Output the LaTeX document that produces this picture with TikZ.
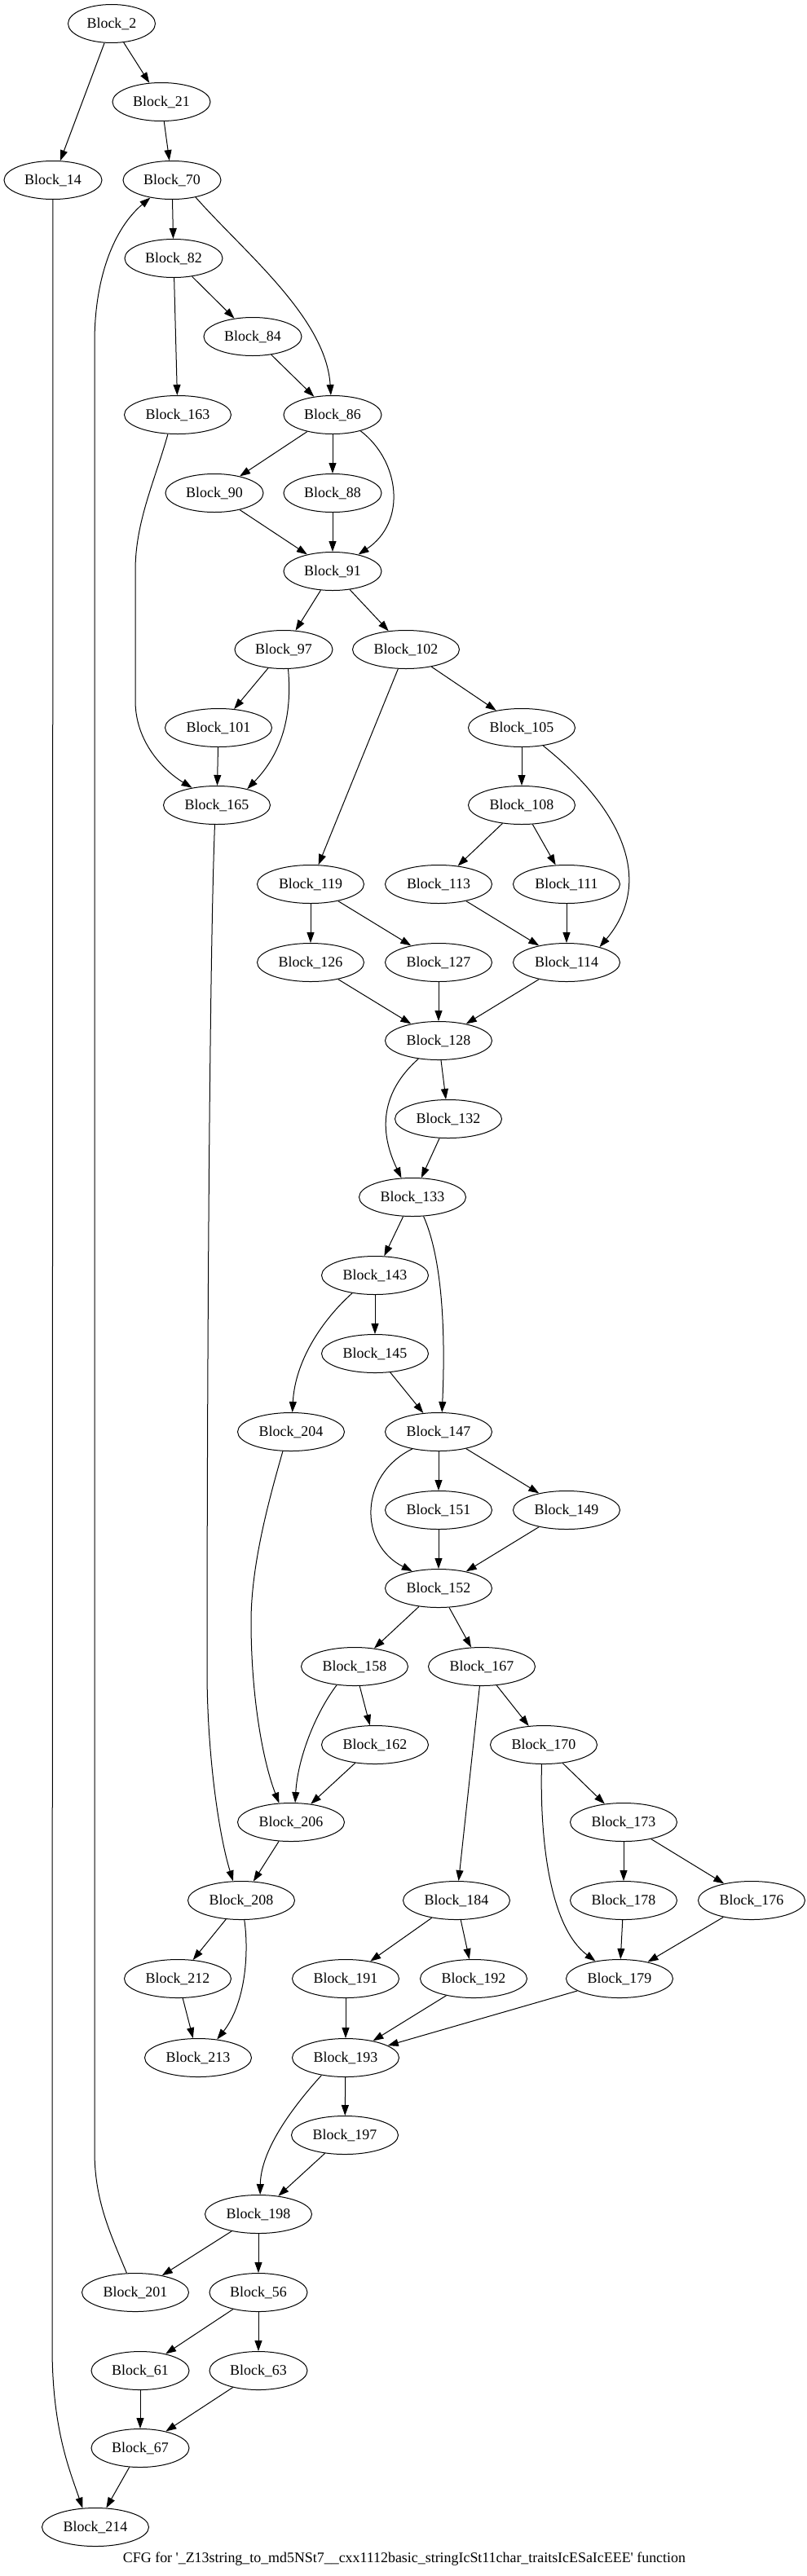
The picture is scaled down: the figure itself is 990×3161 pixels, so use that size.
\documentclass[tikz,border=0pt]{standalone}
\usepackage{fontspec}
\setmainfont{Liberation Serif}
\usetikzlibrary{shapes.geometric,arrows.meta}
\begin{document}
\begin{tikzpicture}[x=1pt,y=-1pt,
  blk/.style={draw,ellipse,line width=1pt,inner sep=0pt,minimum height=47pt,font=\fontsize{17.9}{20}\selectfont},
  bA/.style={blk,minimum width=107pt},
  bB/.style={blk,minimum width=120pt},
  bC/.style={blk,minimum width=131pt},
  ar/.style={line width=1pt,-{Triangle[length=13pt,width=9pt]}},
  ln/.style={line width=1pt}
]
\useasboundingbox[fill=white] (0,0) rectangle (990,3161);
% nodes
\node[bA] (n2) at (137,29) {Block\_2};
\node[bB] (n21) at (198,125) {Block\_21};
\node[bB] (n14) at (65,221) {Block\_14};
\node[bB] (n70) at (211,221) {Block\_70};
\node[bB] (n82) at (213,317) {Block\_82};
\node[bB] (n84) at (310,413) {Block\_84};
\node[bC] (n163) at (218,509) {Block\_163};
\node[bB] (n86) at (408,509) {Block\_86};
\node[bB] (n90) at (263,605) {Block\_90};
\node[bB] (n88) at (408,605) {Block\_88};
\node[bB] (n91) at (408,701) {Block\_91};
\node[bB] (n97) at (348,797) {Block\_97};
\node[bC] (n102) at (498,797) {Block\_102};
\node[bC] (n101) at (268,893) {Block\_101};
\node[bC] (n105) at (640,893) {Block\_105};
\node[bC] (n165) at (266,988) {Block\_165};
\node[bC] (n108) at (640,988) {Block\_108};
\node[bC] (n119) at (381,1085) {Block\_119};
\node[bC] (n113) at (538,1085) {Block\_113};
\node[bC] (n111) at (695,1085) {Block\_111};
\node[bC] (n126) at (381,1181) {Block\_126};
\node[bC] (n127) at (538,1181) {Block\_127};
\node[bC] (n114) at (695,1181) {Block\_114};
\node[bC] (n128) at (538,1277) {Block\_128};
\node[bC] (n132) at (550,1373) {Block\_132};
\node[bC] (n133) at (506,1469) {Block\_133};
\node[bC] (n143) at (460,1565) {Block\_143};
\node[bC] (n145) at (460,1661) {Block\_145};
\node[bC] (n204) at (357,1757) {Block\_204};
\node[bC] (n147) at (538,1757) {Block\_147};
\node[bC] (n151) at (538,1853) {Block\_151};
\node[bC] (n149) at (695,1853) {Block\_149};
\node[bC] (n152) at (538,1949) {Block\_152};
\node[bC] (n158) at (435,2045) {Block\_158};
\node[bC] (n167) at (591,2045) {Block\_167};
\node[bC] (n162) at (460,2141) {Block\_162};
\node[bC] (n170) at (667,2141) {Block\_170};
\node[bC] (n206) at (357,2236) {Block\_206};
\node[bC] (n173) at (765,2236) {Block\_173};
\node[bC] (n208) at (296,2332) {Block\_208};
\node[bC] (n184) at (560,2332) {Block\_184};
\node[bC] (n178) at (765,2332) {Block\_178};
\node[bC] (n176) at (922,2332) {Block\_176};
\node[bC] (n212) at (218,2428) {Block\_212};
\node[bC] (n191) at (424,2428) {Block\_191};
\node[bC] (n192) at (581,2428) {Block\_192};
\node[bC] (n179) at (760,2428) {Block\_179};
\node[bC] (n213) at (243,2525) {Block\_213};
\node[bC] (n193) at (424,2525) {Block\_193};
\node[bC] (n197) at (423,2620) {Block\_197};
\node[bC] (n198) at (317,2717) {Block\_198};
\node[bC] (n201) at (166,2813) {Block\_201};
\node[bB] (n56) at (317,2813) {Block\_56};
\node[bB] (n61) at (172,2909) {Block\_61};
\node[bB] (n63) at (317,2909) {Block\_63};
\node[bB] (n67) at (172,3004) {Block\_67};
\node[bC] (n214) at (117,3101) {Block\_214};
\node[font=\fontsize{17.9}{20}\selectfont] (cap) at (496,3140) {CFG for \textquotesingle\_Z13string\_to\_md5NSt7\_\_cxx1112basic\_stringIcSt11char\_traitsIcESaIcEEE\textquotesingle{} function};
% straight edges
\draw[ar] (n2) -- (n14);
\draw[ar] (n2) -- (n21);
\draw[ar] (n21) -- (n70);
\draw[ar] (n70) -- (n82);
\draw[ar] (n82) -- (n84);
\draw[ar] (n82) -- (n163);
\draw[ar] (n84) -- (n86);
\draw[ar] (n86) -- (n90);
\draw[ar] (n86) -- (n88);
\draw[ar] (n90) -- (n91);
\draw[ar] (n88) -- (n91);
\draw[ar] (n91) -- (n97);
\draw[ar] (n91) -- (n102);
\draw[ar] (n97) -- (n101);
\draw[ar] (n101) -- (n165);
\draw[ar] (n102) -- (n105);
\draw[ar] (n102) -- (n119);
\draw[ar] (n105) -- (n108);
\draw[ar] (n108) -- (n113);
\draw[ar] (n108) -- (n111);
\draw[ar] (n113) -- (n114);
\draw[ar] (n111) -- (n114);
\draw[ar] (n119) -- (n126);
\draw[ar] (n119) -- (n127);
\draw[ar] (n126) -- (n128);
\draw[ar] (n127) -- (n128);
\draw[ar] (n114) -- (n128);
\draw[ar] (n128) -- (n132);
\draw[ar] (n132) -- (n133);
\draw[ar] (n133) -- (n143);
\draw[ar] (n143) -- (n145);
\draw[ar] (n145) -- (n147);
\draw[ar] (n147) -- (n151);
\draw[ar] (n147) -- (n149);
\draw[ar] (n151) -- (n152);
\draw[ar] (n149) -- (n152);
\draw[ar] (n152) -- (n158);
\draw[ar] (n152) -- (n167);
\draw[ar] (n158) -- (n162);
\draw[ar] (n162) -- (n206);
\draw[ar] (n167) -- (n184);
\draw[ar] (n167) -- (n170);
\draw[ar] (n170) -- (n173);
\draw[ar] (n173) -- (n178);
\draw[ar] (n173) -- (n176);
\draw[ar] (n178) -- (n179);
\draw[ar] (n176) -- (n179);
\draw[ar] (n206) -- (n208);
\draw[ar] (n208) -- (n212);
\draw[ar] (n212) -- (n213);
\draw[ar] (n184) -- (n191);
\draw[ar] (n184) -- (n192);
\draw[ar] (n191) -- (n193);
\draw[ar] (n192) -- (n193);
\draw[ar] (n179) -- (n193);
\draw[ar] (n193) -- (n197);
\draw[ar] (n197) -- (n198);
\draw[ar] (n198) -- (n201);
\draw[ar] (n198) -- (n56);
\draw[ar] (n56) -- (n61);
\draw[ar] (n56) -- (n63);
\draw[ar] (n61) -- (n67);
\draw[ar] (n63) -- (n67);
\draw[ar] (n67) -- (n214);
% curved edges
\draw[ar] (n14) -- (64,2880) .. controls (64,2980) and (85,3030) .. (n214.124);
\draw[ar] (n70.-36) .. controls (300,310) and (400,390) .. (n86.95);
\draw[ar] (n163.-117) .. controls (190,590) and (166,640) .. (166,700) -- (166,860) .. controls (166,910) and (200,945) .. (n165.145);
\draw[ar] (n86.-30) .. controls (490,565) and (500,640) .. (n91.33);
\draw[ar] (n97.-77) .. controls (358,870) and (350,920) .. (n165.28);
\draw[ar] (n105.-40) .. controls (760,990) and (805,1080) .. (n114.25);
\draw[ar] (n128.-138) .. controls (462,1345) and (468,1395) .. (n133.120);
\draw[ar] (n133.-60) .. controls (545,1550) and (546,1650) .. (n147.80);
\draw[ar] (n143.-142) .. controls (395,1620) and (362,1670) .. (n204.86);
\draw[ar] (n147.-147) .. controls (440,1810) and (440,1895) .. (n152.147);
\draw[ar] (n204.-113) .. controls (330,1840) and (308,1920) .. (308,1990) .. controls (308,2080) and (322,2160) .. (n206.122);
\draw[ar] (n158.-134) .. controls (385,2105) and (365,2160) .. (n206.78);
\draw[ar] (n165.-96) .. controls (256,1200) and (254,1800) .. (254,2050) .. controls (254,2150) and (268,2250) .. (n208.113);
\draw[ar] (n170.-96) .. controls (662,2260) and (675,2365) .. (n179.144);
\draw[ar] (n208.-81) .. controls (306,2400) and (300,2460) .. (n213.44);
\draw[ar] (n193.-144) .. controls (355,2590) and (320,2640) .. (n198.85);
\draw[ar] (n201.114) .. controls (135,2740) and (116,2700) .. (116,2640) -- (116,420) .. controls (116,340) and (140,280) .. (n70.-141);
\end{tikzpicture}
\end{document}
